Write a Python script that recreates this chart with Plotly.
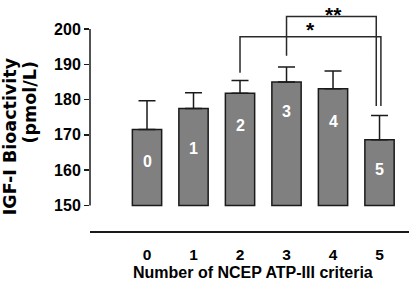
import plotly.graph_objects as go

# ---- data ----
criteria = [0, 1, 2, 3, 4, 5]
igf_mean = [171.5, 177.5, 181.8, 185.0, 183.1, 168.6]
igf_sem = [8.2, 4.4, 3.6, 4.2, 5.0, 6.9]
bar_labels = ["0", "1", "2", "3", "4", "5"]
y_ticks = [150, 160, 170, 180, 190, 200]
x_title = "Number of NCEP ATP-III criteria"
y_title_1 = "IGF-I Bioactivity"
y_title_2 = "(pmol/L)"
baseline = 150

FONT = "Liberation Sans, Arial, sans-serif"
fig = go.Figure()

fig.add_trace(go.Bar(
    x=criteria,
    y=[m - baseline for m in igf_mean],
    base=baseline,
    width=0.63,
    marker=dict(color="#808080", line=dict(color="#1a1a1a", width=1.5)),
    hoverinfo="skip",
    showlegend=False,
))

fig.add_trace(go.Scatter(
    x=criteria,
    y=igf_mean,
    mode="markers",
    marker=dict(size=1, color="rgba(0,0,0,0)"),
    error_y=dict(type="data", array=igf_sem, arrayminus=[0] * len(igf_sem),
                 symmetric=False, color="#1a1a1a", thickness=1.5, width=8.5),
    showlegend=False,
    hoverinfo="skip",
))

# labels inside bars
label_pos = [162.4, 166.2, 172.8, 176.6, 173.9, 160.1]
for xi, lab, yp in zip(criteria, bar_labels, label_pos):
    fig.add_annotation(x=xi, y=yp, text=lab, showarrow=False,
                       font=dict(family=FONT, size=16, color="white", weight=700))

# y axis line (only from 150 to 200)
fig.add_shape(type="line", xref="paper", yref="y", x0=0, x1=0,
              y0=y_ticks[0], y1=y_ticks[-1], line=dict(color="#1a1a1a", width=1.5))

# significance brackets
br = dict(color="#2a2a2a", width=1.5)
# * : 2 vs 5
fig.add_shape(type="path", xref="x", yref="y",
              path="M 2,187.6 L 2,197.8 L 5.03,197.8 L 5.03,178.2", line=br)
# ** : 3 vs 5
fig.add_shape(type="path", xref="x", yref="y",
              path="M 3,192.4 L 3,203.5 L 4.93,203.5 L 4.93,178.2", line=br)
fig.add_annotation(x=4.0, xref="x", yref="paper", y=1, text="**", showarrow=False,
                   yanchor="top", borderpad=0, yshift=-2,
                   font=dict(family=FONT, size=21, color="black", weight=700))
fig.add_annotation(x=3.52, y=197.8, text="*", showarrow=False, yanchor="bottom",
                   yshift=-6, font=dict(family=FONT, size=21, color="black", weight=700))

# y title (two lines)
fig.add_annotation(xref="paper", yref="y", x=-0.25, y=169.7, text=y_title_1,
                   textangle=-90, showarrow=False, xanchor="center", yanchor="middle",
                   borderpad=0,
                   font=dict(family="DejaVu Sans", size=17.5, color="black", weight=700))
fig.add_annotation(xref="paper", yref="y", x=-0.188, y=179.2, text=y_title_2,
                   textangle=-90, showarrow=False, xanchor="center", yanchor="middle",
                   borderpad=0,
                   font=dict(family="DejaVu Sans", size=17.5, color="black", weight=700))

# x title
fig.add_annotation(xref="paper", yref="paper", x=0.51, y=-0.1775, text=x_title,
                   showarrow=False, xanchor="center", yanchor="middle",
                   font=dict(family=FONT, size=16, color="black", weight=700))

fig.update_layout(
    width=410, height=284,
    margin=dict(l=90, r=1, t=0, b=53),
    paper_bgcolor="white", plot_bgcolor="white",
    font=dict(family=FONT, color="black"),
    hovermode=False,
    xaxis=dict(range=[-1.226, 5.634], tickvals=criteria, ticktext=[str(c) for c in criteria],
               showline=True, linecolor="#1a1a1a", linewidth=1.5, showgrid=False,
               zeroline=False, ticks="outside", ticklen=9, tickcolor="rgba(0,0,0,0)",
               tickfont=dict(family=FONT, size=15.5, color="black", weight=700)),
    yaxis=dict(range=[142.78, 208.2], tickvals=y_ticks, showline=False, showgrid=False,
               zeroline=False, ticks="outside", ticklen=5, tickwidth=1.5,
               tickcolor="#1a1a1a",
               tickfont=dict(family=FONT, size=16, color="black", weight=700)),
)

fig.write_html("out.html", config={"displayModeBar": False, "staticPlot": True},
               post_script="document.body.style.margin='0';document.body.style.overflow='hidden';")
